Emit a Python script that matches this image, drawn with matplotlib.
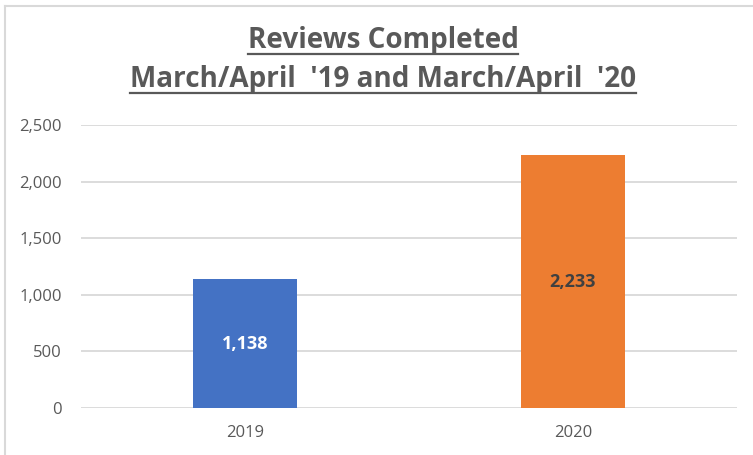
import matplotlib
matplotlib.use("Agg")
import matplotlib.pyplot as plt
from matplotlib.lines import Line2D

years = ["2019", "2020"]
reviews = [1138, 2233]
bar_colors = ["#4472C4", "#ED7D31"]
label_colors = ["white", "#404040"]
title_lines = ["Reviews Completed", "March/April  '19 and March/April  '20"]
y_ticks = [0, 500, 1000, 1500, 2000, 2500]

W, H, DPI = 753, 455, 100
grey = "#595959"
grid = "#D9D9D9"
fam = ["Open Sans", "DejaVu Sans"]

fig = plt.figure(figsize=(W / DPI, H / DPI), dpi=DPI)
ax = fig.add_axes([81 / W, 1 - 408 / H, (737 - 81) / W, (408 - 125) / H])

x = range(len(years))
bars = ax.bar(x, reviews, width=0.315, color=bar_colors, zorder=3)
for b, v, c in zip(bars, reviews, label_colors):
    ax.text(b.get_x() + b.get_width() / 2, v / 2, "{:,}".format(v),
            ha="center", va="center", color=c, fontsize=13,
            fontweight="bold", family=fam, zorder=4)

ax.set_xlim(-0.5, 1.5)
ax.set_ylim(0, 2500)
ax.set_yticks(y_ticks)
ax.set_yticklabels(["{:,}".format(t) for t in y_ticks])
ax.set_xticks(list(x))
ax.set_xticklabels(years)
for lab in ax.get_xticklabels() + ax.get_yticklabels():
    lab.set_family(fam)
    lab.set_fontsize(12)
    lab.set_color(grey)
ax.tick_params(length=0)
ax.tick_params(axis="y", pad=14)
ax.tick_params(axis="x", pad=12)
ax.yaxis.grid(True, color=grid, linewidth=1.3, zorder=0)
ax.set_axisbelow(True)
for s in ax.spines.values():
    s.set_visible(False)

# chart border (only left and top visible in the crop)
fig.add_artist(Line2D([4.5 / W, 4.5 / W], [0, 1 - 6 / H], color=grid, lw=1.5))
fig.add_artist(Line2D([4.5 / W, 1], [1 - 6 / H, 1 - 6 / H], color=grid, lw=1.5))

# underlined two-line title, sized so the second line spans ~506 px
baselines = [48, 87]
texts = []
for line, yb in zip(title_lines, baselines):
    t = fig.text(383 / W, 1 - yb / H, line, ha="center", va="baseline",
                 fontsize=20, fontweight="bold", color=grey, family=fam)
    texts.append(t)
fig.canvas.draw()
r = fig.canvas.get_renderer()
scale = 506 / texts[1].get_window_extent(r).width
for t in texts:
    t.set_fontsize(20 * scale)
fig.canvas.draw()
for t, yb in zip(texts, baselines):
    bb = t.get_window_extent(r)
    yu = 1 - (yb + 6) / H
    fig.add_artist(Line2D([bb.x0 / W, bb.x1 / W], [yu, yu], color=grey, lw=1.6))

fig.savefig("out.png", dpi=DPI)
